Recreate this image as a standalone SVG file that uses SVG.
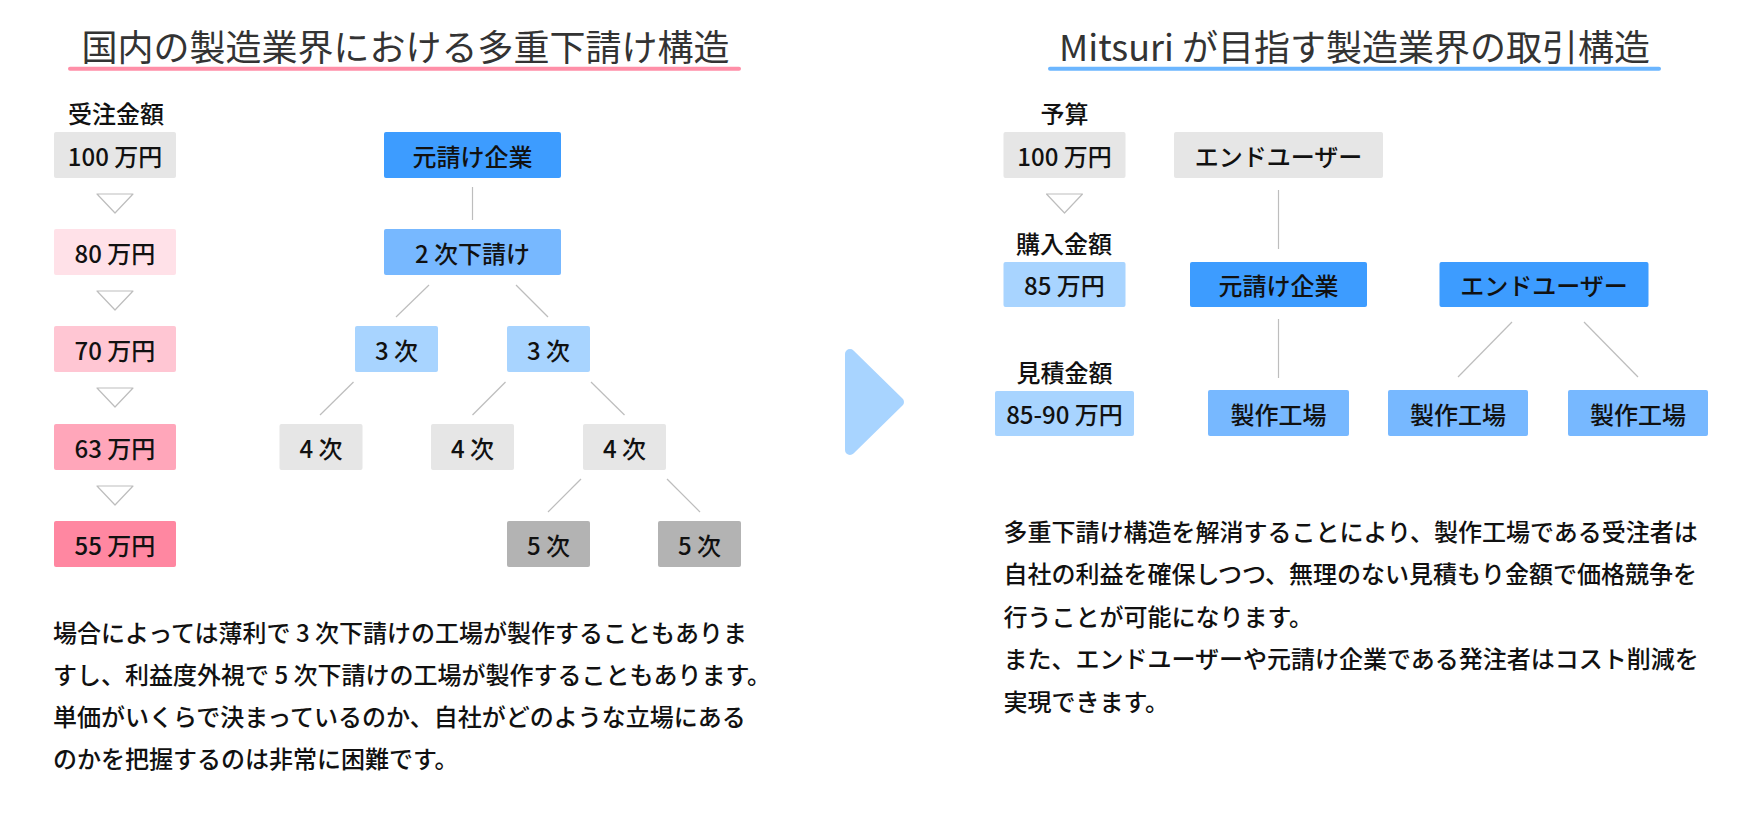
<svg xmlns="http://www.w3.org/2000/svg" width="1760" height="817" viewBox="0 0 1760 817">
<style>
text{font-family:"Noto Sans CJK JP","Noto Sans",sans-serif;fill:#111;font-size:24px;font-weight:500}
.title{font-size:36px;fill:#333;font-weight:400;text-anchor:middle;dominant-baseline:central}
.lbl{text-anchor:middle;dominant-baseline:central}
.body{dominant-baseline:central}
.conn line{stroke:#bdbdbd;stroke-width:1.2}
.tri{fill:#fff;stroke:#bdbdbd;stroke-width:1.2;stroke-linejoin:round}
.gray{fill:#e6e6e6}.dgray{fill:#b3b3b3}
.b1{fill:#3d9cff}.b2{fill:#77b8ff}.b3{fill:#a8d4ff}
.p1{fill:#ffe1e8}.p2{fill:#ffc6d3}.p3{fill:#ffa6ba}.p4{fill:#ff87a1}
</style>
<rect width="1760" height="817" fill="#fff"/>

<!-- Left title -->
<g id="title-left">
<text class="title" x="405.5" y="45">国内の製造業界における多重下請け構造</text>
<line x1="70" y1="68.7" x2="739" y2="68.7" stroke="#ff8fa8" stroke-width="4" stroke-linecap="round"/>
</g>

<!-- Right title -->
<g id="title-right">
<text class="title" x="1354.5" y="45">Mitsuri が目指す製造業界の取引構造</text>
<line x1="1050" y1="68.7" x2="1659" y2="68.7" stroke="#6cb6ff" stroke-width="4" stroke-linecap="round"/>
</g>

<!-- connectors -->
<g id="connectors" class="conn">
<line x1="472.5" y1="187" x2="472.5" y2="220"/>
<line x1="429" y1="285" x2="396" y2="317"/>
<line x1="516" y1="285" x2="548" y2="317"/>
<line x1="353.5" y1="382" x2="320" y2="415"/>
<line x1="505.5" y1="382" x2="472.5" y2="415"/>
<line x1="591" y1="382" x2="624.5" y2="415"/>
<line x1="581" y1="479" x2="548" y2="512"/>
<line x1="667" y1="479" x2="700" y2="512"/>
<line x1="1278.5" y1="190" x2="1278.5" y2="249"/>
<line x1="1278.5" y1="319" x2="1278.5" y2="378"/>
<line x1="1512" y1="322" x2="1458" y2="377"/>
<line x1="1584" y1="322" x2="1638" y2="377"/>
</g>

<!-- left amount column -->
<g id="label-juchu"><text class="lbl" x="116" y="112">受注金額</text></g>
<g id="amt-100"><rect class="gray" x="54" y="132" width="122" height="46" rx="2"/><text class="lbl" x="115" y="155">100 万円</text></g>
<g id="tri-1"><polygon class="tri" points="97,194 133,194 115,213"/></g>
<g id="amt-80"><rect class="p1" x="54" y="229" width="122" height="46" rx="2"/><text class="lbl" x="115" y="252">80 万円</text></g>
<g id="tri-2"><polygon class="tri" points="97,291 133,291 115,310"/></g>
<g id="amt-70"><rect class="p2" x="54" y="326" width="122" height="46" rx="2"/><text class="lbl" x="115" y="349">70 万円</text></g>
<g id="tri-3"><polygon class="tri" points="97,388 133,388 115,407"/></g>
<g id="amt-63"><rect class="p3" x="54" y="424" width="122" height="46" rx="2"/><text class="lbl" x="115" y="447">63 万円</text></g>
<g id="tri-4"><polygon class="tri" points="97,486 133,486 115,505"/></g>
<g id="amt-55"><rect class="p4" x="54" y="521" width="122" height="46" rx="2"/><text class="lbl" x="115" y="544">55 万円</text></g>

<!-- left tree -->
<g id="moto-left"><rect class="b1" x="384" y="132" width="177" height="46" rx="2"/><text class="lbl" x="472.5" y="155">元請け企業</text></g>
<g id="sub2"><rect class="b2" x="384" y="229" width="177" height="46" rx="2"/><text class="lbl" x="472.5" y="252">2 次下請け</text></g>
<g id="sub3a"><rect class="b3" x="355" y="326" width="83" height="46" rx="2"/><text class="lbl" x="396.5" y="349">3 次</text></g>
<g id="sub3b"><rect class="b3" x="507" y="326" width="83" height="46" rx="2"/><text class="lbl" x="548.5" y="349">3 次</text></g>
<g id="sub4a"><rect class="gray" x="279.5" y="424" width="83" height="46" rx="2"/><text class="lbl" x="321" y="447">4 次</text></g>
<g id="sub4b"><rect class="gray" x="431" y="424" width="83" height="46" rx="2"/><text class="lbl" x="472.5" y="447">4 次</text></g>
<g id="sub4c"><rect class="gray" x="583" y="424" width="83" height="46" rx="2"/><text class="lbl" x="624.5" y="447">4 次</text></g>
<g id="sub5a"><rect class="dgray" x="507" y="521" width="83" height="46" rx="2"/><text class="lbl" x="548.5" y="544">5 次</text></g>
<g id="sub5b"><rect class="dgray" x="658" y="521" width="83" height="46" rx="2"/><text class="lbl" x="699.5" y="544">5 次</text></g>

<!-- left body text -->
<g id="text-left">
<text class="body" x="53" y="631">場合によっては薄利で 3 次下請けの工場が製作することもありま</text>
<text class="body" x="53" y="673">すし、利益度外視で 5 次下請けの工場が製作することもあります。</text>
<text class="body" x="53" y="715">単価がいくらで決まっているのか、自社がどのような立場にある</text>
<text class="body" x="53" y="757.5">のかを把握するのは非常に困難です。</text>
</g>

<!-- big arrow -->
<g id="arrow"><polygon points="850,354 899,402 850,450" fill="#a8d4ff" stroke="#a8d4ff" stroke-width="10" stroke-linejoin="round"/></g>

<!-- right amount column -->
<g id="label-yosan"><text class="lbl" x="1064.5" y="112">予算</text></g>
<g id="r-amt-100"><rect class="gray" x="1003.5" y="132" width="122" height="46" rx="2"/><text class="lbl" x="1064.5" y="155">100 万円</text></g>
<g id="r-tri"><polygon class="tri" points="1046.5,194 1082.5,194 1064.5,213"/></g>
<g id="label-konyu"><text class="lbl" x="1064" y="242">購入金額</text></g>
<g id="r-amt-85"><rect class="b3" x="1003.5" y="262" width="122" height="45" rx="2"/><text class="lbl" x="1064.5" y="284.5">85 万円</text></g>
<g id="label-mitsumori"><text class="lbl" x="1064.5" y="371.5">見積金額</text></g>
<g id="r-amt-8590"><rect class="b3" x="995" y="391" width="139" height="45" rx="2"/><text class="lbl" x="1064.5" y="413.5">85-90 万円</text></g>

<!-- right tree -->
<g id="enduser-gray"><rect class="gray" x="1174" y="132" width="209" height="46" rx="2"/><text class="lbl" x="1278.5" y="155">エンドユーザー</text></g>
<g id="moto-right"><rect class="b1" x="1190" y="262" width="177" height="45" rx="2"/><text class="lbl" x="1278.5" y="284.5">元請け企業</text></g>
<g id="enduser-blue"><rect class="b1" x="1439.5" y="262" width="209" height="45" rx="2"/><text class="lbl" x="1544" y="284.5">エンドユーザー</text></g>
<g id="factory-1"><rect class="b2" x="1208" y="390" width="141" height="46" rx="2"/><text class="lbl" x="1278.5" y="413">製作工場</text></g>
<g id="factory-2"><rect class="b2" x="1388" y="390" width="140" height="46" rx="2"/><text class="lbl" x="1458" y="413">製作工場</text></g>
<g id="factory-3"><rect class="b2" x="1568" y="390" width="140" height="46" rx="2"/><text class="lbl" x="1638" y="413">製作工場</text></g>

<!-- right body text -->
<g id="text-right">
<text class="body" x="1003.5" y="530">多重下請け構造を解消することにより、製作工場である受注者は</text>
<text class="body" x="1003.5" y="572.5">自社の利益を確保しつつ、無理のない見積もり金額で価格競争を</text>
<text class="body" x="1003.5" y="615">行うことが可能になります。</text>
<text class="body" x="1003.5" y="657.5">また、エンドユーザーや元請け企業である発注者はコスト削減を</text>
<text class="body" x="1003.5" y="700">実現できます。</text>
</g>
</svg>
